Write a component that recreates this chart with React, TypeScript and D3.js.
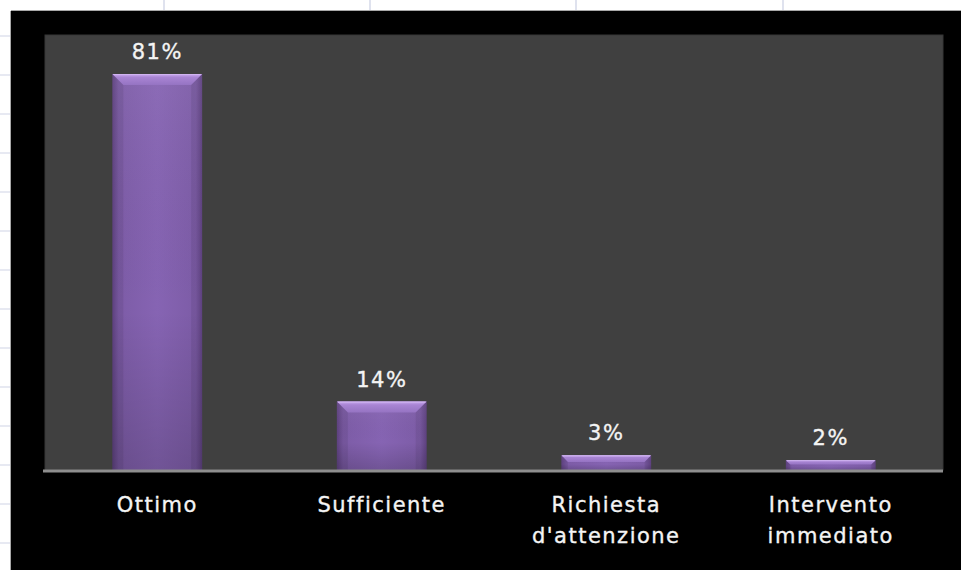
import React from "react";
import * as d3 from "d3";

const categories: string[][] = [
  ["Ottimo"],
  ["Sufficiente"],
  ["Richiesta", "d'attenzione"],
  ["Intervento", "immediato"],
];
const values: number[] = [0.81, 0.14, 0.03, 0.02];
const valueLabels: string[] = ["81%", "14%", "3%", "2%"];

const W = 961;
const H = 570;
const FONT = "'DejaVu Sans', Verdana, sans-serif";

export default function App() {
  const frame = { x: 11, y: 11 };
  const plot = { left: 45, right: 943, top: 35, bottom: 470 };

  const x = d3
    .scaleBand<number>()
    .domain(d3.range(values.length))
    .range([plot.left, plot.right])
    .paddingInner(0.6)
    .paddingOuter(0.3);
  const y = d3.scaleLinear().domain([0, 0.89]).range([plot.bottom, plot.top]);

  const rowLines = d3.range(36, H, 39);
  const colLines = [164, 370, 576, 783];

  const bw = x.bandwidth();
  const bevel = 11;
  const textStyle = {
    fill: "#f4f4f4",
    stroke: "#f4f4f4",
    strokeWidth: 0.35,
    fontFamily: FONT,
    fontSize: 21,
    letterSpacing: 1.5,
  } as const;

  return (
    <div style={{ position: "fixed", left: 0, top: 0, width: W, height: H, background: "#fff" }}>
      <svg width={W} height={H} style={{ display: "block" }}>
        <defs>
          <linearGradient id="barH" x1="0" x2="1" y1="0" y2="0">
            <stop offset="0" stopColor="#654689" />
            <stop offset="0.07" stopColor="#7d5ca7" />
            <stop offset="0.5" stopColor="#8664b3" />
            <stop offset="0.93" stopColor="#7d5ca7" />
            <stop offset="1" stopColor="#654689" />
          </linearGradient>
          <linearGradient id="barV" x1="0" x2="0" y1="0" y2="1">
            <stop offset="0" stopColor="#ffffff" stopOpacity="0.05" />
            <stop offset="0.6" stopColor="#000000" stopOpacity="0" />
            <stop offset="1" stopColor="#000000" stopOpacity="0.16" />
          </linearGradient>
          <linearGradient id="bevelTop" x1="0" x2="0" y1="0" y2="1">
            <stop offset="0" stopColor="#c8a8ee" />
            <stop offset="0.3" stopColor="#a985d4" />
            <stop offset="1" stopColor="#9573c2" />
          </linearGradient>
        </defs>

        {/* spreadsheet grid behind */}
        {rowLines.map((ry) => (
          <line key={"r" + ry} x1={0} x2={frame.x} y1={ry} y2={ry} stroke="#dfe2ee" strokeWidth={1.5} />
        ))}
        {colLines.map((cx) => (
          <line key={"c" + cx} x1={cx} x2={cx} y1={0} y2={frame.y} stroke="#dfe2ee" strokeWidth={2} />
        ))}

        {/* chart frame */}
        <rect x={frame.x} y={frame.y} width={W - frame.x} height={H - frame.y} fill="#000" />
        <line x1={frame.x - 0.5} x2={frame.x - 0.5} y1={frame.y} y2={H} stroke="#a8a8a8" />
        <line x1={frame.x} x2={W} y1={frame.y - 0.5} y2={frame.y - 0.5} stroke="#a8a8a8" />

        {/* plot area */}
        <rect
          x={plot.left}
          y={plot.top}
          width={plot.right - plot.left}
          height={plot.bottom - plot.top}
          fill="#404040"
          stroke="#363636"
          strokeWidth={1}
        />

        {/* bars */}
        {values.map((v, i) => {
          const bx = x(i)!;
          const by = y(v);
          const bh = plot.bottom - by;
          const bv = Math.min(bevel, bh * 0.45);
          return (
            <g key={i}>
              <rect x={bx} y={by} width={bw} height={bh} fill="url(#barH)" />
              <rect x={bx} y={by} width={bw} height={bh} fill="url(#barV)" />
              <path
                d={`M${bx},${by} L${bx + bw},${by} L${bx + bw - bv},${by + bv} L${bx + bv},${by + bv} Z`}
                fill="url(#bevelTop)"
              />
              <line x1={bx + 1} x2={bx + bw - 1} y1={by + 0.5} y2={by + 0.5} stroke="#d2b6f2" strokeWidth={1} />
              <path
                d={`M${bx},${by} L${bx + bv},${by + bv} L${bx + bv},${plot.bottom} L${bx},${plot.bottom} Z`}
                fill="#000"
                opacity={0.07}
              />
              <path
                d={`M${bx + bw},${by} L${bx + bw - bv},${by + bv} L${bx + bw - bv},${plot.bottom} L${bx + bw},${plot.bottom} Z`}
                fill="#000"
                opacity={0.07}
              />
              <text x={bx + bw / 2} y={by - 15} textAnchor="middle" {...textStyle}>
                {valueLabels[i]}
              </text>
            </g>
          );
        })}

        {/* axis line */}
        <line x1={plot.left - 2} x2={plot.right} y1={plot.bottom + 1} y2={plot.bottom + 1} stroke="#8e8e8e" strokeWidth={3} />

        {/* category labels */}
        {categories.map((lines, i) => (
          <text key={i} x={x(i)! + bw / 2} y={plot.bottom + 42} textAnchor="middle" {...textStyle}>
            {lines.map((t, j) => (
              <tspan key={j} x={x(i)! + bw / 2} dy={j === 0 ? 0 : 31}>
                {t}
              </tspan>
            ))}
          </text>
        ))}
      </svg>
    </div>
  );
}
